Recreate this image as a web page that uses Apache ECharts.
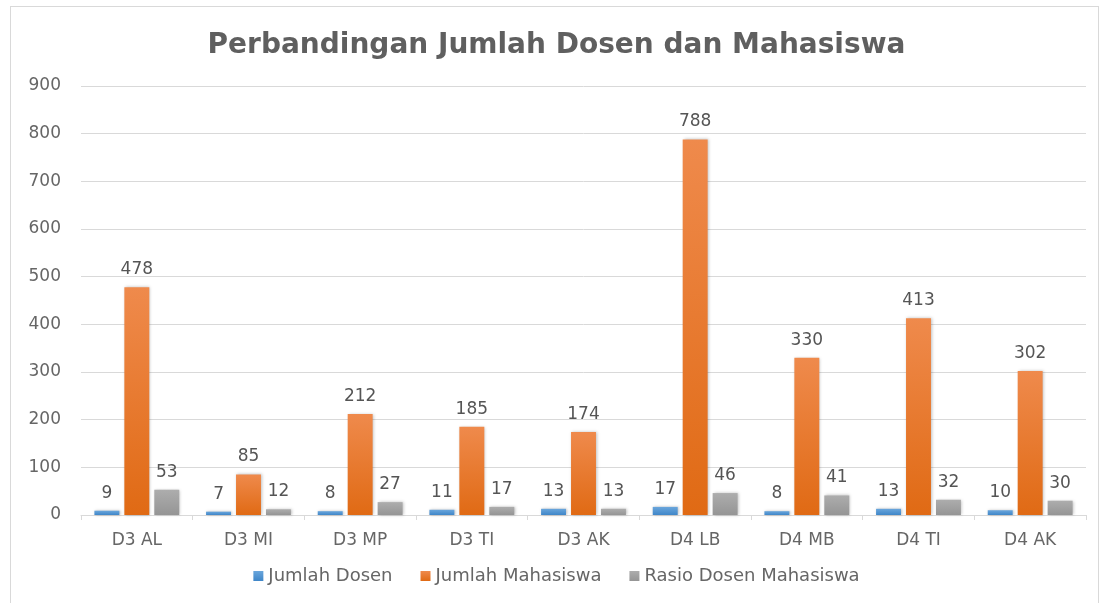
<!DOCTYPE html>
<html lang="id">
<head>
  <meta charset="UTF-8">
  <title>Perbandingan Jumlah Dosen dan Mahasiswa</title>
  <script src="https://cdn.jsdelivr.net/npm/echarts@6/dist/echarts.min.js"></script>
  <style>
    html, body { margin: 0; padding: 0; background: #fff; }
    #frame { position: absolute; left: 10px; top: 6px; width: 1089px; height: 620px; border: 1px solid #d9d9d9; box-sizing: border-box; }
    #chart { position: absolute; left: 0; top: 0; width: 1113px; height: 603px; }
  </style>
</head>
<body>
  <div id="frame"></div>
  <div id="chart"></div>
  <script>
    var aProdi = ['D3 AL', 'D3 MI', 'D3 MP', 'D3 TI', 'D3 AK', 'D4 LB', 'D4 MB', 'D4 TI', 'D4 AK'];
    var aDosen = [9, 7, 8, 11, 13, 17, 8, 13, 10];
    var aMahasiswa = [478, 85, 212, 185, 174, 788, 330, 413, 302];
    var aRasio = [53, 12, 27, 17, 13, 46, 41, 32, 30];

    var oChart = echarts.init(document.getElementById('chart'));

    function grad(top, bottom) {
      return new echarts.graphic.LinearGradient(0, 0, 0, 1, [
        { offset: 0, color: top },
        { offset: 1, color: bottom }
      ]);
    }

    var labelOpt = {
      show: true,
      position: 'top',
      distance: 9,
      color: '#555555',
      fontSize: 17,
      fontFamily: 'DejaVu Sans'
    };

    var chartopt = {
      animation: false,
      textStyle: { fontFamily: 'DejaVu Sans' },
      title: {
        text: 'Perbandingan Jumlah Dosen dan Mahasiswa',
        left: 'center',
        top: 27,
        textStyle: { color: '#5f5f5f', fontSize: 28, fontWeight: 'bold', fontFamily: 'DejaVu Sans' }
      },
      legend: {
        bottom: 13,
        left: 'center',
        itemWidth: 10,
        itemHeight: 10,
        itemGap: 28,
        icon: 'rect',
        textStyle: { color: '#666666', fontSize: 18, fontFamily: 'DejaVu Sans' },
        data: ['Jumlah Dosen', 'Jumlah Mahasiswa', 'Rasio Dosen Mahasiswa']
      },
      grid: { left: 81, right: 27, top: 86, bottom: 88 },
      xAxis: {
        type: 'category',
        data: aProdi,
        axisLine: { lineStyle: { color: '#d9d9d9' } },
        axisTick: { show: true, length: 5, lineStyle: { color: '#d9d9d9' } },
        axisLabel: { color: '#666666', fontSize: 17, margin: 17 }
      },
      yAxis: {
        type: 'value',
        min: 0,
        max: 900,
        interval: 100,
        axisLine: { show: false },
        axisTick: { show: false },
        axisLabel: { color: '#666666', fontSize: 17, margin: 20 },
        splitLine: { lineStyle: { color: '#d9d9d9' } }
      },
      series: [
        {
          name: 'Jumlah Dosen',
          type: 'bar',
          barGap: '20%',
          barCategoryGap: '24%',
          itemStyle: { color: grad('#6aa6dc', '#3f86c8'), shadowColor: 'rgba(0,0,0,0.25)', shadowBlur: 3, shadowOffsetX: 1 },
          label: labelOpt,
          data: aDosen
        },
        {
          name: 'Jumlah Mahasiswa',
          type: 'bar',
          itemStyle: { color: grad('#ef8a4c', '#e06a14'), shadowColor: 'rgba(0,0,0,0.25)', shadowBlur: 3, shadowOffsetX: 1 },
          label: labelOpt,
          data: aMahasiswa
        },
        {
          name: 'Rasio Dosen Mahasiswa',
          type: 'bar',
          itemStyle: { color: grad('#adadad', '#959595'), shadowColor: 'rgba(0,0,0,0.25)', shadowBlur: 3, shadowOffsetX: 1 },
          label: labelOpt,
          data: aRasio
        }
      ]
    };

    oChart.setOption(chartopt);
  </script>
</body>
</html>
